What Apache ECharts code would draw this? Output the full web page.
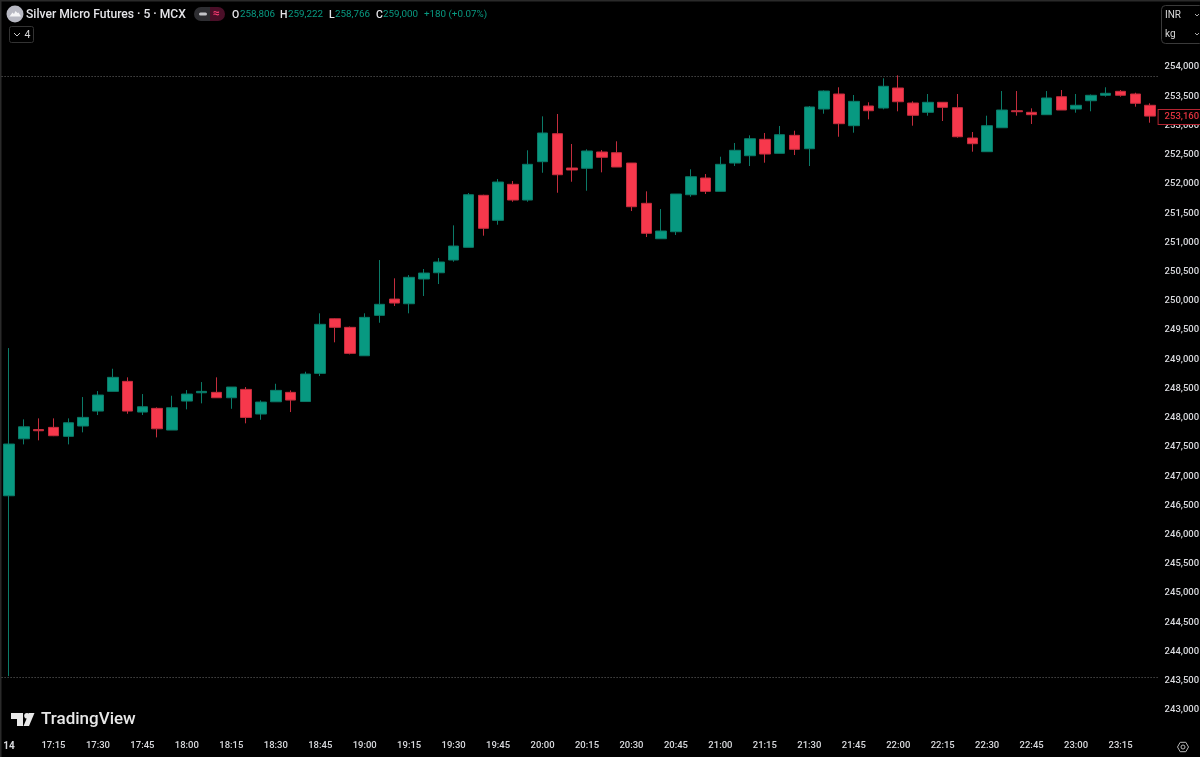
<!DOCTYPE html>
<html>
<head>
<meta charset="utf-8">
<title>Silver Micro Futures</title>
<script src="https://cdn.jsdelivr.net/npm/echarts@6/dist/echarts.min.js"></script>
<style>
html, body { margin: 0; padding: 0; background: #000; }
#main { width: 1200px; height: 757px; }
</style>
</head>
<body>
<div id="main"></div>
<script>
var categories = ["14","17:05","17:10","17:15","17:20","17:25","17:30","17:35","17:40","17:45","17:50","17:55",
  "18:00","18:05","18:10","18:15","18:20","18:25","18:30","18:35","18:40","18:45","18:50","18:55",
  "19:00","19:05","19:10","19:15","19:20","19:25","19:30","19:35","19:40","19:45","19:50","19:55",
  "20:00","20:05","20:10","20:15","20:20","20:25","20:30","20:35","20:40","20:45","20:50","20:55",
  "21:00","21:05","21:10","21:15","21:20","21:25","21:30","21:35","21:40","21:45","21:50","21:55",
  "22:00","22:05","22:10","22:15","22:20","22:25","22:30","22:35","22:40","22:45","22:50","22:55",
  "23:00","23:05","23:10","23:15","23:20","23:25"];

var opens = [246665,247640,247798,247835,247681,247858,248114,248451,248622,248097,248160,247789,
  248285,248427,248434,248342,248485,248063,248273,248434,248277,248759,249693,249546,
  249060,249751,250030,249950,250373,250480,250698,250915,251805,251377,251993,251724,
  252380,252859,252272,252267,252546,252534,252357,251668,251062,251182,251815,252101,
  251873,252357,252482,252763,252523,252831,252602,253281,253538,252996,253333,253298,
  253641,253384,253225,253396,253304,252785,252551,252961,253252,253225,253184,253492,
  253281,253423,253516,253584,253538,253345];
var closes = [247550,247845,247777,247692,247914,248006,248388,248691,248114,248188,247811,248171,
  248405,248451,248342,248525,248006,248268,248468,248302,248747,249598,249546,249101,
  249717,249940,249962,250402,250475,250664,250937,251815,251240,252032,251724,252335,
  252871,252157,252238,252563,252455,252289,251610,251155,251194,251827,252123,251873,
  252335,252575,252773,252511,252842,252592,253316,253589,253030,253413,253252,253670,
  253406,253174,253396,253310,252807,252688,252996,253264,253235,253184,253470,253264,
  253345,253516,253550,253516,253379,253160];
var lows = [243580,247544,247613,247685,247544,247750,248046,248451,248068,248046,247664,247789,
  248143,248246,248342,248153,247904,247965,248273,248097,248270,248713,249290,249084,
  249060,249625,249911,249786,250082,250287,250669,250915,251114,251302,251695,251695,
  252191,251849,252037,251883,252198,252289,251536,251091,251062,251126,251781,251827,
  251873,252306,252306,252363,252523,252494,252306,253201,252807,252876,253105,253276,
  253242,252996,253167,253076,252790,252551,252551,252961,253167,253025,253184,253264,
  253218,253242,253492,253492,253321,253047];
var highs = [249192,247972,247989,247989,247989,248354,248456,248838,248691,248405,248177,248376,
  248473,248610,248691,248525,248525,248297,248581,248468,248787,249786,249700,249560,
  249786,250698,250385,250441,250544,250732,251291,251844,251815,252084,252049,252575,
  253156,253196,252683,252592,252580,252729,252357,251873,251570,251827,252250,252169,
  252465,252700,252831,252871,252991,252910,253333,253600,253653,253521,253396,253807,
  253858,253413,253538,253396,253538,252888,253167,253589,253589,253293,253589,253606,
  253538,253530,253653,253606,253560,253379];

var priceMin = 243000, priceMax = 254000, priceStep = 500;
var sessionHigh = 253846, sessionLow = 243563;
var lastPrice = 253160;

var upColor = "#089981", downColor = "#F7384C";
var upEdge = "#0b7a68", downEdge = "#c42d3d";
var labelColor = "#d8d9dd";
var font = "Roboto";

var candles = [];
for (var i = 0; i < categories.length; i++) {
  candles.push([opens[i], closes[i], lows[i], highs[i]]);
}

function fmt(v) {
  return Number(v).toLocaleString("en-US");
}

function txt(x, y, str, color, size, weight) {
  return {
    type: "text", x: x, y: y, silent: true,
    style: { text: str, fill: color, font: (weight || 400) + " " + size + "px " + font, textVerticalAlign: "middle" }
  };
}

var header = [
  // window edge
  { type: "rect", shape: { x: 0, y: 0, width: 1200, height: 1.5 }, style: { fill: "#2a2a2a" } },
  { type: "rect", shape: { x: 0, y: 0, width: 1.5, height: 757 }, style: { fill: "#2a2a2a" } },
  // symbol icon
  { type: "circle", shape: { cx: 15, cy: 14, r: 8.5 }, style: { fill: "#b7b8c2" } },
  { type: "polygon", shape: { points: [[9.5,16.5],[12.5,12.5],[14,14],[15.5,11],[17.5,13],[18.5,12.5],[21,16.5]] }, style: { fill: "#f4f4f6" } },
  txt(26, 15, "Silver Micro Futures · 5 · MCX", "#e4e4e8", 12.1, 500),
  // status pill
  { type: "rect", shape: { x: 194, y: 7, width: 16, height: 14, r: [7,0,0,7] }, style: { fill: "#2e2e32" } },
  { type: "rect", shape: { x: 210, y: 7, width: 15, height: 14, r: [0,7,7,0] }, style: { fill: "#4a0f28" } },
  { type: "rect", shape: { x: 199, y: 12.5, width: 8, height: 3, r: 1.5 }, style: { fill: "#c4c4c8" } },
  txt(213, 14, "≈", "#f23a70", 12, 700),
  // OHLC readout
  txt(232, 15, "O", "#e4e4e8", 10.5, 500),
  txt(240, 15, "258,806", upColor, 9.8, 400),
  txt(280, 15, "H", "#e4e4e8", 10.5, 500),
  txt(288, 15, "259,222", upColor, 9.8, 400),
  txt(329, 15, "L", "#e4e4e8", 10.5, 500),
  txt(335, 15, "258,766", upColor, 9.8, 400),
  txt(376, 15, "C", "#e4e4e8", 10.5, 500),
  txt(383, 15, "259,000", upColor, 9.8, 400),
  txt(424, 15, "+180 (+0.07%)", upColor, 9.8, 400),
  // collapsed indicators button
  { type: "rect", shape: { x: 9.5, y: 26.5, width: 24, height: 16, r: 2 }, style: { fill: "none", stroke: "#333", lineWidth: 1 } },
  { type: "polyline", shape: { points: [[14,33],[17,36],[20,33]] }, style: { fill: "none", stroke: "#c8c8c8", lineWidth: 1 } },
  txt(24.5, 35, "4", "#d8d8d8", 10.5, 400),
  // currency and unit box
  { type: "rect", shape: { x: 1161.5, y: 5.5, width: 42, height: 38, r: 4 }, style: { fill: "#000", stroke: "#3a3a3a", lineWidth: 1 } },
  txt(1165, 15, "INR", "#d8d8d8", 10, 400),
  txt(1165, 34, "kg", "#d8d8d8", 10, 400),
  { type: "polyline", shape: { points: [[1195,14],[1197,16],[1199,14]] }, style: { fill: "none", stroke: "#aaa", lineWidth: 1 } },
  { type: "polyline", shape: { points: [[1195,33],[1197,35],[1199,33]] }, style: { fill: "none", stroke: "#aaa", lineWidth: 1 } },
  // TradingView mark
  { type: "polygon", shape: { points: [[11,713],[23,713],[23,726],[17,726],[17,719],[11,719]] }, style: { fill: "#e8e8e8" } },
  { type: "circle", shape: { cx: 27, cy: 715.8, r: 2.8 }, style: { fill: "#e8e8e8" } },
  { type: "polygon", shape: { points: [[29,713],[34.5,713],[29,726],[23.5,726]] }, style: { fill: "#e8e8e8" } },
  txt(41, 720, "TradingView", "#e8e8e8", 17, 500),
  // settings hexagon
  { type: "polygon", shape: { points: [[1177.5,747],[1180.2,742.3],[1185.8,742.3],[1188.5,747],[1185.8,751.7],[1180.2,751.7]] }, style: { fill: "none", stroke: "#b8b8b8", lineWidth: 1 } },
  { type: "circle", shape: { cx: 1183, cy: 747, r: 2 }, style: { fill: "none", stroke: "#b8b8b8", lineWidth: 1 } }
];

var myChart = echarts.init(document.getElementById("main"));
var option = {
  animation: false,
  backgroundColor: "#000",
  textStyle: { fontFamily: font },
  grid: { left: 1.6, top: 67, width: 1156, height: 643, outerBoundsMode: "none" },
  xAxis: {
    type: "category",
    data: categories,
    boundaryGap: true,
    axisLine: { show: false },
    axisTick: { show: false },
    splitLine: { show: false },
    axisLabel: {
      interval: 2,
      margin: 31,
      color: labelColor,
      fontSize: 9.5,
      fontWeight: 500,
      fontFamily: font,
      formatter: function(value) {
        return value === "14" ? "{day|14}" : value;
      },
      rich: { day: { color: labelColor, fontSize: 10, fontWeight: 700, fontFamily: font } }
    }
  },
  yAxis: {
    type: "value",
    position: "right",
    min: priceMin,
    max: priceMax,
    interval: priceStep,
    axisLine: { show: false },
    axisTick: { show: false },
    splitLine: { show: false },
    axisLabel: {
      margin: 7,
      padding: [4, 0, 0, 0],
      color: labelColor,
      fontSize: 9.5,
      fontWeight: 500,
      fontFamily: font,
      formatter: fmt
    }
  },
  series: [
    {
      type: "candlestick",
      data: candles,
      barWidth: 11,
      itemStyle: {
        color: upColor,
        color0: downColor,
        borderColor: upEdge,
        borderColor0: downEdge,
        borderWidth: 1
      },
      markLine: {
        silent: true,
        symbol: "none",
        animation: false,
        data: [
          { yAxis: sessionHigh, lineStyle: { color: "#6a6a6a", type: [1, 2], width: 1 }, label: { show: false } },
          { yAxis: sessionLow, lineStyle: { color: "#6a6a6a", type: [1, 2], width: 1 }, label: { show: false } },
          {
            yAxis: lastPrice,
            lineStyle: { color: "rgba(0,0,0,0)", width: 0 },
            label: {
              show: true,
              position: "end",
              distance: 1,
              offset: [0, 1],
              formatter: fmt(lastPrice),
              color: "#e0323f",
              fontSize: 9.5,
              fontWeight: 500,
              fontFamily: font,
              backgroundColor: "#000",
              borderColor: "#b32431",
              borderWidth: 1,
              padding: [3, 2, 1, 6]
            }
          }
        ]
      }
    }
  ],
  graphic: { elements: header }
};
myChart.setOption(option);
</script>
</body>
</html>
